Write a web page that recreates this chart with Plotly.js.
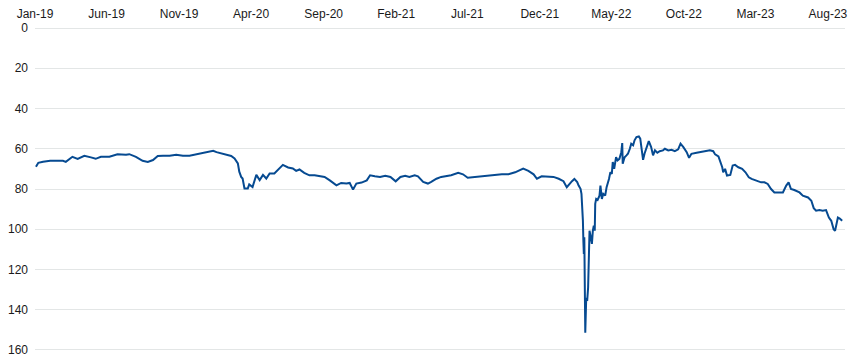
<!DOCTYPE html>
<html>
<head>
<meta charset="utf-8">
<script src="https://cdn.plot.ly/plotly-3.0.1.min.js"></script>
<style>
  html, body { margin: 0; padding: 0; background: #ffffff; }
  #chart { width: 855px; height: 362px; }
</style>
</head>
<body>
<div id="chart"></div>
<script>
const dates = [
  "2019-01-03","2019-01-08","2019-01-18","2019-02-02","2019-02-16","2019-03-01","2019-03-07","2019-03-21",
  "2019-04-01","2019-04-15","2019-04-29","2019-05-09","2019-05-20","2019-06-07","2019-06-24","2019-07-12",
  "2019-07-19","2019-08-02","2019-08-16","2019-08-27","2019-09-07","2019-09-17","2019-09-28","2019-10-12",
  "2019-10-26","2019-11-09","2019-11-23","2019-12-07","2019-12-21","2020-01-12","2020-01-19","2020-01-30",
  "2020-02-09","2020-02-19","2020-02-26","2020-03-04","2020-03-07","2020-03-11","2020-03-14","2020-03-18",
  "2020-03-25","2020-03-28","2020-04-04","2020-04-12","2020-04-19","2020-04-26","2020-05-03","2020-05-10",
  "2020-05-20","2020-05-27","2020-06-07","2020-06-18","2020-06-28","2020-07-05","2020-07-12",
  "2020-07-22","2020-08-02","2020-08-13","2020-08-23","2020-09-03","2020-09-14","2020-09-28","2020-10-08",
  "2020-10-19","2020-10-26","2020-11-02","2020-11-09","2020-11-20","2020-12-01","2020-12-08","2020-12-18",
  "2020-12-29","2021-01-09","2021-01-20","2021-01-31","2021-02-10","2021-02-20","2021-03-01","2021-03-12",
  "2021-03-19","2021-03-30","2021-04-09","2021-04-16","2021-04-27","2021-05-07","2021-05-18","2021-05-28",
  "2021-06-12","2021-06-22","2021-07-02","2021-07-16","2021-07-31","2021-08-14","2021-08-28","2021-09-12",
  "2021-09-26","2021-10-10","2021-10-27","2021-11-07","2021-11-18","2021-11-25","2021-12-05","2021-12-19",
  "2021-12-30","2022-01-10",
  "2022-01-20","2022-01-27","2022-01-31","2022-02-07","2022-02-12","2022-02-18","2022-02-21","2022-02-25",
  "2022-02-27","2022-03-01","2022-03-02","2022-03-03","2022-03-04","2022-03-05","2022-03-06","2022-03-07",
  "2022-03-09","2022-03-11","2022-03-13","2022-03-16","2022-03-18","2022-03-21","2022-03-23","2022-03-25",
  "2022-03-27","2022-03-28","2022-03-30","2022-04-02","2022-04-06","2022-04-08","2022-04-11","2022-04-14",
  "2022-04-18","2022-04-21","2022-04-26","2022-04-29","2022-05-02","2022-05-04","2022-05-07","2022-05-11",
  "2022-05-14","2022-05-18","2022-05-22","2022-05-24","2022-05-25","2022-05-29","2022-06-02","2022-06-05",
  "2022-06-09","2022-06-12","2022-06-16","2022-06-19","2022-06-23","2022-06-28","2022-07-01","2022-07-05",
  "2022-07-07","2022-07-10","2022-07-15","2022-07-19","2022-07-24","2022-07-28","2022-08-01","2022-08-06",
  "2022-08-11","2022-08-18","2022-08-22","2022-08-29","2022-09-05","2022-09-12","2022-09-19","2022-09-24",
  "2022-09-30","2022-10-07","2022-10-12","2022-10-17","2022-10-28","2022-11-04","2022-11-11","2022-11-18",
  "2022-11-25",
  "2022-12-02","2022-12-06","2022-12-13","2022-12-18","2022-12-21","2022-12-23","2022-12-27","2022-12-31",
  "2023-01-07","2023-01-12","2023-01-17","2023-01-24","2023-02-01","2023-02-08","2023-02-15","2023-02-21",
  "2023-03-02","2023-03-13","2023-03-20","2023-03-27","2023-04-03","2023-04-10","2023-04-21","2023-04-28",
  "2023-05-05","2023-05-10","2023-05-15","2023-05-22","2023-06-02","2023-06-09","2023-06-20","2023-06-27",
  "2023-07-02","2023-07-07","2023-07-14","2023-07-21","2023-07-28","2023-08-03","2023-08-08","2023-08-13",
  "2023-08-16","2023-08-19","2023-08-22","2023-08-26","2023-08-31"
];
const values = [
  69,67,66.5,66,66,66,66.5,64,
  65,63.5,64.3,65,64,64,62.7,63,
  62.7,64,66,66.6,65.6,63.6,63.5,63.5,
  63,63.5,63.5,62.8,61.8,61,61.7,62.3,
  63,63.6,64.8,67.3,71.4,74,74.8,79.7,
  79.7,77.7,79,73,75.6,73,74.8,72.3,
  72.3,70.6,68,69.3,69.8,71,70.3,
  72,73.2,73.2,73.7,74,75.7,78.2,77,
  77.3,77,80.3,77.3,76.8,75.7,73.2,73.7,
  74,73.4,74,76.2,74,73.4,74,73.2,
  73.7,76.5,77.3,76.5,74.9,74,73.7,73.2,
  72,72.7,74.4,74,73.7,73.4,73,72.7,
  72.7,71.7,69.9,71,72.7,74.9,73.7,73.7,
  74,74.9,
  76.1,79.1,77.8,76.1,75,76.6,78.3,79.9,
  82.4,89,95.7,105.7,112.3,104,122.3,151.4,
  134,135.6,129,100.7,103.2,107.3,100.7,98.2,
  100.7,87.4,84.9,85.4,83.3,78.3,84.9,82.4,
  83.3,79.1,75,71.6,72.5,66.6,70,64.2,
  65.8,65,61.7,57.2,67.5,64.2,63.3,62.5,
  60,57.5,58.3,55.8,54.2,53.9,55,61.7,
  65.5,62.5,59.2,56.2,59.2,63.3,60.8,62,
  61.2,60.8,60,60.8,60.5,61.2,60.3,57.5,
  59.2,61.7,64.5,62.5,62,61.7,61.3,60.8,
  60.8,
  61.2,62.8,63.8,66.7,69.2,71.7,70,73.3,
  73,68.3,68,69.2,70,71.7,74.2,75,
  75.8,76.7,76.7,77.5,80,81.7,81.7,81.7,
  78.3,76.7,80,80.5,81.7,83.3,84.2,85.8,
  89.5,90.8,90.5,90.8,90.5,94.2,95.8,100,
  100.8,96.7,94.2,94.7,95.8
];
const tickDates = ["2019-01-01","2019-06-01","2019-11-01","2020-04-01","2020-09-01","2021-02-01",
                   "2021-07-01","2021-12-01","2022-05-01","2022-10-01","2023-03-01","2023-08-01"];
const tickLabels = ["Jan-19","Jun-19","Nov-19","Apr-20","Sep-20","Feb-21",
                    "Jul-21","Dec-21","May-22","Oct-22","Mar-23","Aug-23"];
const yTicks = [0,20,40,60,80,100,120,140,160];

const font = {family: "Liberation Sans, Arial, sans-serif", size: 12, color: "#1a1a1a"};

Plotly.newPlot("chart", [{
  x: dates, y: values, type: "scatter", mode: "lines",
  line: {color: "#064a91", width: 2},
  hoverinfo: "skip"
}], {
  width: 855, height: 362,
  margin: {l: 35, r: 10, t: 27, b: 11},
  paper_bgcolor: "#ffffff", plot_bgcolor: "#ffffff",
  showlegend: false,
  font: font,
  xaxis: {
    type: "date", side: "top",
    range: ["2019-01-01", "2023-09-06"],
    tickmode: "array", tickvals: tickDates, ticktext: tickLabels,
    showgrid: false, zeroline: false, showline: false, ticks: "",
    tickfont: font, automargin: false, ticklabelstandoff: 6
  },
  yaxis: {
    range: [160.5, -0.5],
    tickmode: "array", tickvals: yTicks, ticktext: yTicks.map(String),
    showgrid: true, gridcolor: "#e3e6e6", gridwidth: 1,
    zeroline: false, showline: false, ticks: "",
    tickfont: font, automargin: false, ticklabelstandoff: 6
  }
}, {staticPlot: true});
</script>
</body>
</html>
